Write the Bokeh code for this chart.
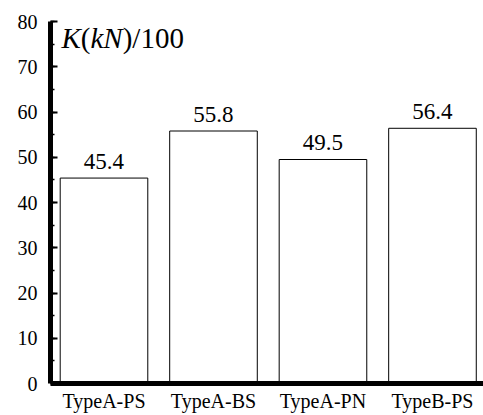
from bokeh.plotting import figure
from bokeh.models import Range1d, FixedTicker, SingleIntervalTicker, Label, ColumnDataSource
from bokeh.core.properties import value
from bokeh.embed import file_html
from bokeh.resources import INLINE

categories = ["TypeA-PS", "TypeA-BS", "TypeA-PN", "TypeB-PS"]
values = [45.4, 55.8, 49.5, 56.4]
value_labels = ["45.4", "55.8", "49.5", "56.4"]

FONT = "Liberation Serif"
positions = list(range(len(categories)))
x_start = -0.4886
x_end = 3.466

src = ColumnDataSource(dict(x=positions, top=values, lab=value_labels))

p = figure(width=483, height=415, output_backend="svg", toolbar_location=None,
           x_range=Range1d(x_start, x_end), y_range=Range1d(0, 80),
           min_border_left=50, min_border_right=0, min_border_top=21, min_border_bottom=32)
p.outline_line_color = None
p.xgrid.visible = False
p.ygrid.visible = False
p.background_fill_color = "white"
p.border_fill_color = "white"

p.vbar(x="x", top="top", width=0.8, bottom=0, source=src,
       fill_color="white", line_color="black", line_width=1)

p.text(x="x", y="top", text="lab", source=src, text_align="center",
       text_baseline="alphabetic", y_offset=-17,
       text_font=value(FONT), text_font_size="23px", text_color="black")

# x axis
xa = p.xaxis[0]
xa.ticker = FixedTicker(ticks=positions)
xa.major_label_overrides = {i: c for i, c in enumerate(categories)}
xa.axis_line_width = 5
xa.axis_line_color = "black"
xa.major_tick_in = 0
xa.major_tick_out = 0
xa.minor_tick_in = 0
xa.minor_tick_out = 0
xa.major_label_standoff = 6
xa.major_label_text_font = FONT
xa.major_label_text_font_size = "20px"
xa.major_label_text_color = "black"

# y axis
ya = p.yaxis[0]
ya.ticker = SingleIntervalTicker(interval=10, num_minor_ticks=2)
ya.axis_line_width = 5
ya.axis_line_color = "black"
ya.major_tick_in = 7
ya.major_tick_out = 0
ya.minor_tick_in = 4
ya.minor_tick_out = 0
ya.major_tick_line_width = 2
ya.minor_tick_line_width = 1.5
ya.major_label_standoff = 13
ya.major_label_text_font = FONT
ya.major_label_text_font_size = "20px"
ya.major_label_text_color = "black"

# title K(kN)/100 with italic parts
parts = [("K", "italic", 11), ("(", "normal", 30.3), ("kN", "italic", 40), (")/100", "normal", 72.2)]
for txt, style, dx in parts:
    p.add_layout(Label(x=x_start, y=80, x_offset=dx, y_offset=-16, text=txt,
                       text_font=FONT, text_font_style=style, text_font_size="29px",
                       text_baseline="alphabetic", text_color="black"))

open("out.html", "w").write(file_html(p, INLINE))
